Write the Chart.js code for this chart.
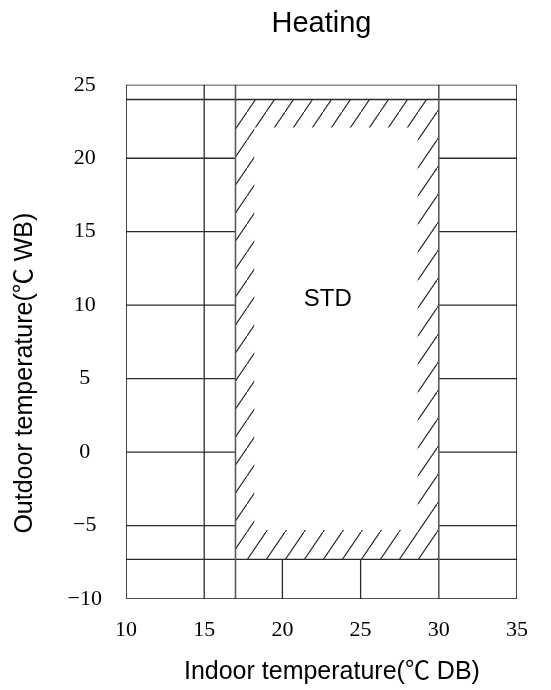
<!DOCTYPE html>
<html>
<head>
<meta charset="utf-8">
<script src="https://cdn.jsdelivr.net/npm/chart.js@4/dist/chart.umd.min.js"></script>
<style>
  html, body { margin: 0; padding: 0; background: #fff; }
  #wrap { width: 551px; height: 690px; }
</style>
</head>
<body>
<div id="wrap"><canvas id="chart"></canvas></div>
<script>
// Operating range chart - heating mode

// axis ranges / ticks
const xRange = [10, 35];
const yRange = [-10, 25];
const tickStep = 5;

// STD operating box (indoor DB x outdoor WB)
const stdX = [17, 30];
const stdY = [-7.3, 24];

// hatched band depth inside the box (left, right, bottom, top)
const hatchDepth = [1.2, 1.35, 2.0, 1.9];

// grid lines
const fullCols = [15];                       // full height verticals
const sideRows = [-5, 0, 5, 10, 15, 20];     // horizontals left/right of box only
const lowerCols = [20, 25];                  // short verticals under the box

const stdLabel = "STD";
const stdLabelAt = [22.9, 10.4];

const colors = {
  frame: "#1a1a1a",
  grid: "#2a2a2a",
  box: "#5a5a5a",
  hatch: "#1e1e1e",
  text: "#000000",
};

const sansFont = "'Liberation Sans', Arial, 'Noto Sans CJK SC', sans-serif";
const serifFont = "'Liberation Serif', 'Times New Roman', serif";

// turn [[x1,y1,x2,y2], ...] into one broken polyline
function segments(list) {
  const pts = [];
  list.forEach(([x1, y1, x2, y2]) => {
    pts.push({ x: x1, y: y1 }, { x: x2, y: y2 }, { x: null, y: null });
  });
  return pts;
}

function rect(x0, x1, y0, y1) {
  return [
    { x: x0, y: y0 }, { x: x1, y: y0 }, { x: x1, y: y1 },
    { x: x0, y: y1 }, { x: x0, y: y0 },
  ];
}

function makeHatch() {
  const w = 19, h = 28;
  const c = document.createElement("canvas");
  c.width = w;
  c.height = h;
  const g = c.getContext("2d");
  g.strokeStyle = colors.hatch;
  g.lineWidth = 1.1;
  g.beginPath();
  g.moveTo(-1, h + 1.5);
  g.lineTo(w + 1, -1.5);
  g.stroke();
  return g.createPattern(c, "repeat");
}

const frameLines = segments([
  [xRange[0], yRange[0], xRange[1], yRange[0]],
  [xRange[0], yRange[1], xRange[1], yRange[1]],
  [xRange[0], yRange[0], xRange[0], yRange[1]],
  [xRange[1], yRange[0], xRange[1], yRange[1]],
]);

const gridLines = segments([
  ...fullCols.map((x) => [x, yRange[0], x, yRange[1]]),
  ...sideRows.map((y) => [xRange[0], y, stdX[0], y]),
  ...sideRows.map((y) => [stdX[1], y, xRange[1], y]),
  [xRange[0], stdY[0], xRange[1], stdY[0]],
  [xRange[0], stdY[1], xRange[1], stdY[1]],
  ...lowerCols.map((x) => [x, yRange[0], x, stdY[0]]),
]);

const boxLines = segments([
  [stdX[0], yRange[0], stdX[0], yRange[1]],
  [stdX[1], yRange[0], stdX[1], yRange[1]],
]);

const hatchOuter = rect(stdX[0], stdX[1], stdY[0], stdY[1]);
const hatchInner = rect(
  stdX[0] + hatchDepth[0], stdX[1] - hatchDepth[1],
  stdY[0] + hatchDepth[2], stdY[1] - hatchDepth[3]
);

const lineStyle = { showLine: true, pointRadius: 0, spanGaps: false, fill: false };

const stdLabelPlugin = {
  id: "stdLabel",
  afterDatasetsDraw(chart) {
    const { ctx, scales } = chart;
    ctx.save();
    ctx.fillStyle = colors.text;
    ctx.font = `24px ${sansFont}`;
    ctx.textAlign = "center";
    ctx.textBaseline = "middle";
    ctx.fillText(stdLabel, scales.x.getPixelForValue(stdLabelAt[0]), scales.y.getPixelForValue(stdLabelAt[1]));
    ctx.restore();
  },
};

// trailing/leading blanks nudge the axis titles off-centre like the original
const nbsp = (n) => "\u00a0".repeat(n);

new Chart(document.getElementById("chart"), {
  type: "scatter",
  data: {
    datasets: [
      { ...lineStyle, data: frameLines, borderColor: colors.frame, borderWidth: 1.6, order: 0 },
      { ...lineStyle, data: boxLines, borderColor: colors.box, borderWidth: 1.6, order: 1 },
      { ...lineStyle, data: gridLines, borderColor: colors.grid, borderWidth: 1.3, order: 2 },
      { ...lineStyle, data: hatchInner, borderWidth: 0, fill: "shape", backgroundColor: "#ffffff", order: 3 },
      { ...lineStyle, data: hatchOuter, borderWidth: 0, fill: "shape", backgroundColor: makeHatch(), order: 4 },
    ],
  },
  options: {
    responsive: true,
    maintainAspectRatio: false,
    animation: false,
    layout: { padding: { top: 0, right: 34, bottom: 0, left: 0 } },
    plugins: {
      legend: { display: false },
      tooltip: { enabled: false },
      title: {
        display: true,
        text: "Heating",
        fullSize: false,
        color: colors.text,
        font: { family: sansFont, size: 29, weight: "normal" },
        padding: { top: 7, bottom: 43 },
      },
    },
    scales: {
      x: {
        type: "linear",
        min: xRange[0],
        max: xRange[1],
        grid: { display: false, drawTicks: false },
        border: { display: false },
        ticks: {
          stepSize: tickStep,
          padding: 18,
          color: colors.text,
          font: { family: serifFont, size: 22 },
          callback: (v) => String(v),
        },
        title: {
          display: true,
          text: nbsp(3) + "Indoor temperature(℃ DB)",
          color: colors.text,
          font: { family: sansFont, size: 25 },
          padding: { top: 0, bottom: 3 },
        },
        afterFit: (s) => { s.height = 91; },
      },
      y: {
        type: "linear",
        min: yRange[0],
        max: yRange[1],
        grid: { display: false, drawTicks: false },
        border: { display: false },
        ticks: {
          stepSize: tickStep,
          padding: 24,
          crossAlign: "center",
          color: colors.text,
          font: { family: serifFont, size: 22 },
          callback: (v) => (v < 0 ? "\u2212" + Math.abs(v) : String(v)),
        },
        title: {
          display: true,
          text: "Outdoor temperature(℃ WB)" + nbsp(9),
          color: colors.text,
          font: { family: sansFont, size: 25 },
          padding: { top: 10, bottom: 0 },
        },
        afterFit: (s) => { s.width = 126; },
      },
    },
  },
  plugins: [stdLabelPlugin],
});
</script>
</body>
</html>
